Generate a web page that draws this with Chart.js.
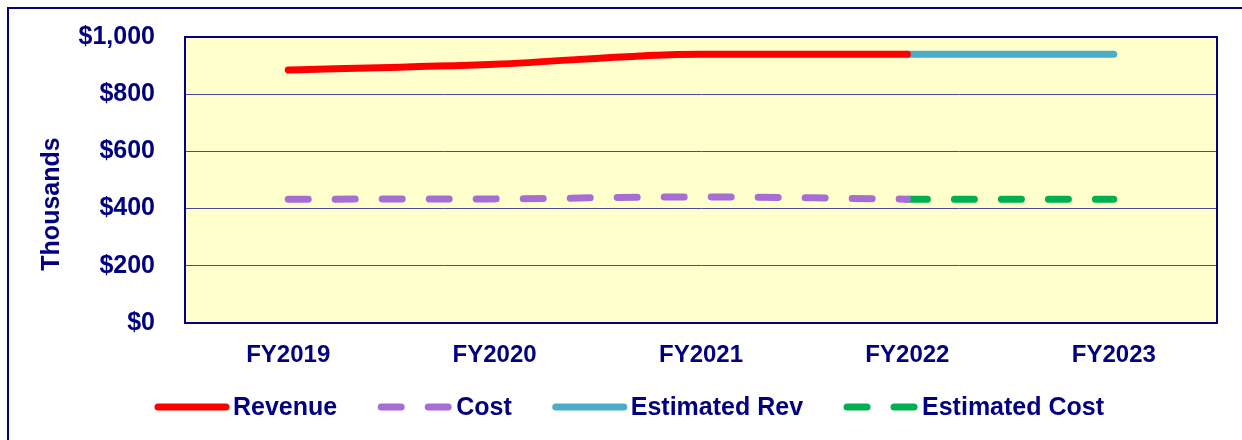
<!DOCTYPE html>
<html>
<head>
<meta charset="utf-8">
<script src="https://cdn.jsdelivr.net/npm/chart.js@4"></script>
<style>
  html, body { margin: 0; padding: 0; background: #fff; overflow: hidden; }
  #wrap { position: relative; width: 1242px; height: 440px; }
  #frame { position: absolute; left: 7px; top: 7px; width: 1300px; height: 500px; border: 2px solid #000080; }
  #c { position: absolute; left: 0; top: 0; }
</style>
</head>
<body>
<div id="wrap">
  <div id="frame"></div>
  <canvas id="c" width="1242" height="440"></canvas>
</div>
<script>
var years = ['FY2019', 'FY2020', 'FY2021', 'FY2022', 'FY2023'];
var revenue = [885, 905, 940, 940, null];
var cost = [433, 434, 441, 433, null];
var estRev = [null, null, null, 940, 940];
var estCost = [null, null, null, 433, 433];
var yMax = 1000;
var yStep = 200;
var yTitle = 'Thousands';

var navy = '#000080';
var font = "'Liberation Sans', Arial, sans-serif";

// plot area fill + frame, y title
var plotBox = {
    id: 'plotBox',
    beforeDraw: function (chart) {
        var a = chart.chartArea, ctx = chart.ctx;
        ctx.save();
        ctx.fillStyle = '#FFFFCC';
        ctx.fillRect(a.left, a.top, a.right - a.left, a.bottom - a.top);
        ctx.restore();
    },
    afterDraw: function (chart) {
        var a = chart.chartArea, ctx = chart.ctx;
        ctx.save();
        ctx.strokeStyle = navy;
        ctx.lineWidth = 2;
        ctx.strokeRect(a.left, a.top, a.right - a.left, a.bottom - a.top);
        // title sits a bit below the middle, like the original
        ctx.translate(52, (a.top + a.bottom) / 2 + 24);
        ctx.rotate(-Math.PI / 2);
        ctx.font = 'bold 25px ' + font;
        ctx.fillStyle = navy;
        ctx.textAlign = 'center';
        ctx.textBaseline = 'middle';
        ctx.fillText(yTitle, 0, 0);
        ctx.restore();
    }
};

// legend drawn by hand so the spacing matches
var lineLegend = {
    id: 'lineLegend',
    afterDraw: function (chart) {
        var ctx = chart.ctx;
        var sets = chart.data.datasets;
        var symW = 68, txtGap = 7, itemGap = 44, y = 407;
        ctx.save();
        ctx.font = 'bold 25px ' + font;
        var total = 0;
        sets.forEach(function (ds, i) {
            total += symW + txtGap + ctx.measureText(ds.label).width;
            if (i > 0) total += itemGap;
        });
        var x = 631 - total / 2;
        sets.forEach(function (ds) {
            ctx.strokeStyle = ds.borderColor;
            ctx.lineWidth = ds.borderWidth;
            ctx.lineCap = 'round';
            ctx.setLineDash(ds.borderDash || []);
            ctx.beginPath();
            ctx.moveTo(x, y);
            ctx.lineTo(x + symW, y);
            ctx.stroke();
            ctx.setLineDash([]);
            ctx.fillStyle = navy;
            ctx.textBaseline = 'middle';
            ctx.textAlign = 'left';
            ctx.fillText(ds.label, x + symW + txtGap, y + 1);
            x += symW + txtGap + ctx.measureText(ds.label).width + itemGap;
        });
        ctx.restore();
    }
};

new Chart(document.getElementById('c').getContext('2d'), {
    type: 'line',
    data: {
        labels: years,
        datasets: [{
            label: 'Revenue',
            data: revenue,
            borderColor: '#FF0000',
            borderWidth: 7,
            borderCapStyle: 'round',
            cubicInterpolationMode: 'monotone',
            pointRadius: 0,
            fill: false
        }, {
            label: 'Cost',
            data: cost,
            borderColor: '#A66DD4',
            borderWidth: 7,
            borderDash: [20, 27],
            borderCapStyle: 'round',
            cubicInterpolationMode: 'monotone',
            pointRadius: 0,
            fill: false
        }, {
            label: 'Estimated Rev',
            data: estRev,
            borderColor: '#4BACC6',
            borderWidth: 7,
            borderCapStyle: 'round',
            pointRadius: 0,
            fill: false
        }, {
            label: 'Estimated Cost',
            data: estCost,
            borderColor: '#00B050',
            borderWidth: 7,
            borderDash: [20, 27],
            borderCapStyle: 'round',
            pointRadius: 0,
            fill: false
        }]
    },
    options: {
        responsive: false,
        animation: false,
        spanGaps: false,
        layout: { padding: { left: 40, top: 37, right: 25, bottom: 0 } },
        plugins: {
            legend: { display: false },
            tooltip: { enabled: false }
        },
        scales: {
            x: {
                offset: true,
                grid: { display: false, drawTicks: false },
                border: { color: navy, width: 2 },
                ticks: {
                    color: navy,
                    padding: 18,
                    font: { family: font, size: 24, weight: 'bold' }
                },
                afterFit: function (s) { s.height = 117; }
            },
            y: {
                min: 0,
                max: yMax,
                grid: { color: '#4B4B9B', lineWidth: 1, drawTicks: false },
                border: { color: navy, width: 2 },
                ticks: {
                    stepSize: yStep,
                    color: navy,
                    padding: 30,
                    font: { family: font, size: 25, weight: 'bold' },
                    callback: function (v) { return '$' + v.toLocaleString('en-US'); }
                },
                afterFit: function (s) {
                    s.width = 145;
                    s.paddingTop = 0;
                    s.paddingBottom = 0;
                }
            }
        }
    },
    plugins: [plotBox, lineLegend]
});
</script>
</body>
</html>
